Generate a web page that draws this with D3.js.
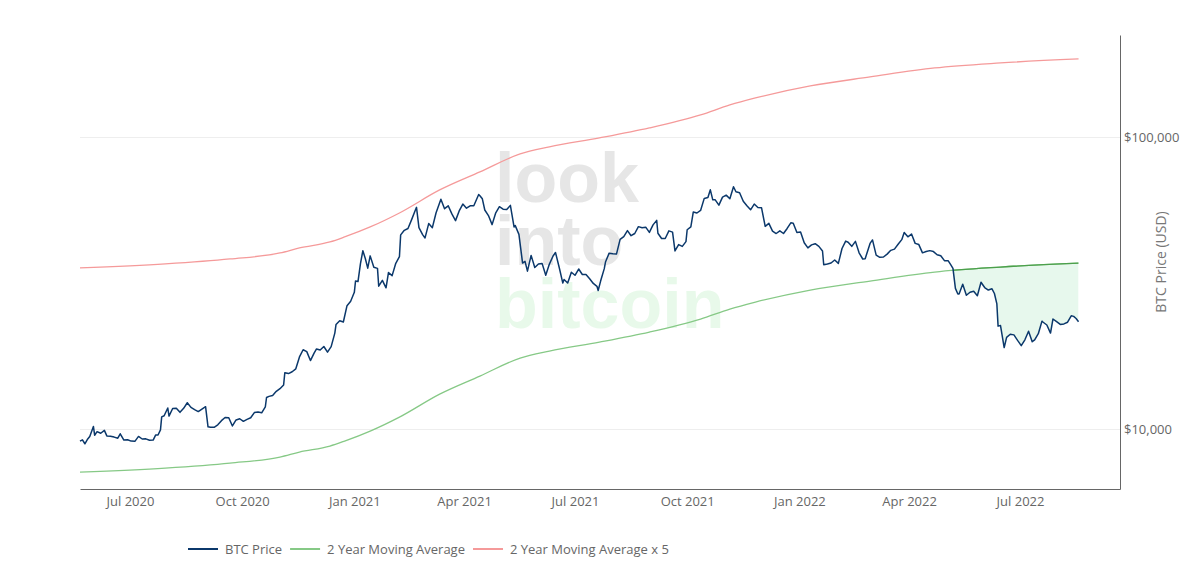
<!DOCTYPE html>
<html>
<head>
<meta charset="utf-8">
<script src="https://cdn.jsdelivr.net/npm/d3@7"></script>
<style>
  html, body { margin: 0; padding: 0; background: #fff; }
  svg { display: block; font-family: "Open Sans", sans-serif; }
</style>
</head>
<body>
<div id="chart-holder"></div>
<script>
// BTC daily close, sampled every few days [date, usd]
var btcPrice = [
  ['2020-05-21', 9080], ['2020-05-23', 9180], ['2020-05-25', 8900], ['2020-05-27', 9200], ['2020-05-29', 9430],
  ['2020-06-01', 10200], ['2020-06-02', 9520], ['2020-06-04', 9790], ['2020-06-07', 9670], ['2020-06-10', 9890],
  ['2020-06-12', 9470], ['2020-06-15', 9450], ['2020-06-18', 9380], ['2020-06-21', 9300], ['2020-06-23', 9630],
  ['2020-06-26', 9160], ['2020-06-29', 9190], ['2020-07-02', 9090], ['2020-07-05', 9070], ['2020-07-08', 9430],
  ['2020-07-11', 9240], ['2020-07-14', 9250], ['2020-07-17', 9150], ['2020-07-20', 9160], ['2020-07-22', 9530],
  ['2020-07-24', 9540], ['2020-07-26', 9930], ['2020-07-27', 11000], ['2020-07-29', 11100], ['2020-08-01', 11800],
  ['2020-08-02', 11070], ['2020-08-05', 11750], ['2020-08-08', 11770], ['2020-08-11', 11400], ['2020-08-14', 11770],
  ['2020-08-17', 12300], ['2020-08-20', 11860], ['2020-08-23', 11650], ['2020-08-26', 11470], ['2020-08-29', 11700],
  ['2020-09-01', 11920], ['2020-09-03', 10170], ['2020-09-05', 10130], ['2020-09-08', 10130], ['2020-09-11', 10330],
  ['2020-09-14', 10680], ['2020-09-17', 10950], ['2020-09-20', 10930], ['2020-09-23', 10240], ['2020-09-26', 10740],
  ['2020-09-29', 10840], ['2020-10-02', 10620], ['2020-10-05', 10790], ['2020-10-08', 10930], ['2020-10-11', 11380],
  ['2020-10-14', 11430], ['2020-10-17', 11360], ['2020-10-20', 11910], ['2020-10-21', 12820], ['2020-10-23', 12930],
  ['2020-10-26', 13030], ['2020-10-29', 13460], ['2020-11-01', 13740], ['2020-11-04', 14150], ['2020-11-05', 15590],
  ['2020-11-08', 15480], ['2020-11-11', 15700], ['2020-11-14', 16070], ['2020-11-17', 17650], ['2020-11-20', 18680],
  ['2020-11-23', 18400], ['2020-11-26', 17150], ['2020-11-29', 18180], ['2020-12-01', 18800], ['2020-12-04', 18650],
  ['2020-12-07', 19160], ['2020-12-10', 18320], ['2020-12-13', 19140], ['2020-12-16', 21300], ['2020-12-17', 22800],
  ['2020-12-20', 23480], ['2020-12-23', 23240], ['2020-12-26', 26440], ['2020-12-29', 27360], ['2021-01-01', 29370],
  ['2021-01-02', 32130], ['2021-01-04', 31970], ['2021-01-06', 36770], ['2021-01-08', 40780], ['2021-01-10', 38360],
  ['2021-01-12', 35540], ['2021-01-14', 39150], ['2021-01-17', 35800], ['2021-01-20', 35470], ['2021-01-21', 30830],
  ['2021-01-24', 32290], ['2021-01-27', 30430], ['2021-01-29', 34320], ['2021-02-01', 33500], ['2021-02-04', 36930],
  ['2021-02-07', 38900], ['2021-02-08', 46200], ['2021-02-11', 47900], ['2021-02-14', 48600], ['2021-02-17', 52100],
  ['2021-02-20', 56100], ['2021-02-21', 57400], ['2021-02-23', 48900], ['2021-02-26', 46300], ['2021-02-28', 45100],
  ['2021-03-03', 50500], ['2021-03-06', 48900], ['2021-03-09', 54900], ['2021-03-13', 61200], ['2021-03-16', 56800],
  ['2021-03-19', 58100], ['2021-03-22', 54500], ['2021-03-25', 51700], ['2021-03-28', 55800], ['2021-03-31', 58900],
  ['2021-04-03', 57000], ['2021-04-06', 58100], ['2021-04-09', 58100], ['2021-04-13', 63500], ['2021-04-14', 62900],
  ['2021-04-16', 61400], ['2021-04-18', 56200], ['2021-04-21', 53800], ['2021-04-24', 50100], ['2021-04-27', 55000],
  ['2021-04-30', 57700], ['2021-05-03', 56600], ['2021-05-06', 56400], ['2021-05-09', 58300], ['2021-05-12', 49200],
  ['2021-05-13', 49700], ['2021-05-16', 46400], ['2021-05-19', 37000], ['2021-05-21', 37500], ['2021-05-23', 34700],
  ['2021-05-26', 39300], ['2021-05-29', 35700], ['2021-06-01', 36700], ['2021-06-04', 36900], ['2021-06-07', 33600],
  ['2021-06-10', 36700], ['2021-06-13', 39100], ['2021-06-15', 40200], ['2021-06-18', 35800], ['2021-06-21', 31600],
  ['2021-06-22', 32500], ['2021-06-25', 31600], ['2021-06-28', 34400], ['2021-07-01', 33600], ['2021-07-04', 35300],
  ['2021-07-07', 33800], ['2021-07-10', 33800], ['2021-07-13', 32700], ['2021-07-16', 31500], ['2021-07-19', 30800],
  ['2021-07-20', 29800], ['2021-07-22', 32100], ['2021-07-25', 35400], ['2021-07-26', 37300], ['2021-07-29', 40000],
  ['2021-08-01', 39800], ['2021-08-04', 39700], ['2021-08-07', 44600], ['2021-08-10', 45600], ['2021-08-13', 47800],
  ['2021-08-16', 45900], ['2021-08-19', 46700], ['2021-08-22', 49300], ['2021-08-25', 48900], ['2021-08-28', 49100],
  ['2021-08-31', 47100], ['2021-09-03', 50000], ['2021-09-06', 51800], ['2021-09-07', 46800], ['2021-09-10', 44900],
  ['2021-09-13', 44900], ['2021-09-16', 47700], ['2021-09-19', 47200], ['2021-09-21', 40700], ['2021-09-24', 42800],
  ['2021-09-27', 42200], ['2021-09-30', 43800], ['2021-10-01', 48100], ['2021-10-04', 49200], ['2021-10-06', 55300],
  ['2021-10-09', 54900], ['2021-10-12', 56000], ['2021-10-15', 61600], ['2021-10-18', 62000], ['2021-10-20', 65900],
  ['2021-10-22', 60900], ['2021-10-24', 60900], ['2021-10-27', 58400], ['2021-10-30', 62200], ['2021-11-02', 63200],
  ['2021-11-05', 61400], ['2021-11-08', 67500], ['2021-11-10', 64900], ['2021-11-13', 64400], ['2021-11-16', 60200],
  ['2021-11-19', 58100], ['2021-11-22', 56300], ['2021-11-25', 58900], ['2021-11-28', 57300], ['2021-12-01', 57200],
  ['2021-12-04', 49400], ['2021-12-07', 50600], ['2021-12-10', 47600], ['2021-12-13', 46700], ['2021-12-16', 47700],
  ['2021-12-19', 46700], ['2021-12-22', 48600], ['2021-12-25', 50800], ['2021-12-27', 50600], ['2021-12-30', 47100],
  ['2022-01-02', 47300], ['2022-01-05', 43400], ['2022-01-08', 41700], ['2022-01-11', 42700], ['2022-01-14', 43100],
  ['2022-01-17', 42200], ['2022-01-20', 40700], ['2022-01-21', 36500], ['2022-01-24', 36700], ['2022-01-27', 37000],
  ['2022-01-30', 37900], ['2022-02-02', 36900], ['2022-02-05', 41500], ['2022-02-08', 44000], ['2022-02-10', 43600],
  ['2022-02-13', 42200], ['2022-02-16', 43900], ['2022-02-19', 40100], ['2022-02-22', 38200], ['2022-02-24', 38300],
  ['2022-02-28', 43200], ['2022-03-02', 44400], ['2022-03-05', 39400], ['2022-03-08', 38700], ['2022-03-11', 38800],
  ['2022-03-14', 39700], ['2022-03-17', 40900], ['2022-03-20', 41300], ['2022-03-23', 42900], ['2022-03-26', 44500],
  ['2022-03-28', 47100], ['2022-03-31', 45500], ['2022-04-03', 46500], ['2022-04-06', 43200], ['2022-04-09', 42800],
  ['2022-04-12', 40100], ['2022-04-15', 40500], ['2022-04-18', 40800], ['2022-04-21', 40500], ['2022-04-24', 39500],
  ['2022-04-27', 39200], ['2022-04-30', 37700], ['2022-05-03', 37700], ['2022-05-05', 36600], ['2022-05-07', 35500],
  ['2022-05-09', 30300], ['2022-05-11', 29000], ['2022-05-12', 29000], ['2022-05-15', 31300], ['2022-05-18', 28700],
  ['2022-05-21', 29400], ['2022-05-24', 29600], ['2022-05-27', 28600], ['2022-05-30', 31800], ['2022-06-02', 30500],
  ['2022-06-05', 29900], ['2022-06-08', 30200], ['2022-06-10', 29100], ['2022-06-12', 26800], ['2022-06-13', 22500],
  ['2022-06-15', 22600], ['2022-06-18', 19000], ['2022-06-20', 20600], ['2022-06-23', 21100], ['2022-06-26', 21000],
  ['2022-06-29', 20100], ['2022-07-02', 19300], ['2022-07-05', 20200], ['2022-07-08', 21600], ['2022-07-11', 19900],
  ['2022-07-13', 20200], ['2022-07-16', 21200], ['2022-07-19', 23400], ['2022-07-20', 23200], ['2022-07-23', 22700],
  ['2022-07-26', 21300], ['2022-07-28', 23800], ['2022-07-31', 23300], ['2022-08-03', 22800], ['2022-08-06', 22900],
  ['2022-08-09', 23200], ['2022-08-12', 24400], ['2022-08-14', 24300], ['2022-08-16', 23900], ['2022-08-18', 23300]
];

// 2 year (730 day) moving average
var maDates = ['2020-05-21', '2020-07-30', '2020-09-21', '2020-11-01', '2020-11-17', '2020-12-12',
  '2020-12-24', '2021-01-14', '2021-02-07', '2021-03-12', '2021-04-14', '2021-05-17', '2021-06-10',
  '2021-07-21', '2021-08-31', '2021-10-12', '2021-11-05', '2021-11-26', '2022-01-10', '2022-02-28',
  '2022-04-22', '2022-06-15', '2022-08-18'];
var maValues = [7118, 7348, 7642, 8012, 8335, 8738,
  9088, 9835, 10984, 13168, 15180, 17490, 18490,
  19840, 21470, 23790, 25740, 27200, 29910, 32100,
  34460, 35850, 37000];
var maMultiple = 5;

var xDomain = ['2020-05-21', '2022-09-21'];
var yDomain = [6230, 223400];
var yTicks = [10000, 100000];
var seriesNames = ['BTC Price', '2 Year Moving Average', '2 Year Moving Average x 5'];
var seriesColors = ['#0b386b', '#86c986', '#f59a9a'];
var watermarkWords = ['look', 'into', 'bitcoin'];

(function () {
    "use strict";
    var width = 1200, height = 575,
        padding = { top: 35, right: 80, bottom: 86, left: 80 },
        plotW = width - padding.left - padding.right,
        plotH = height - padding.top - padding.bottom,
        parse = d3.timeParse('%Y-%m-%d');

    var price = btcPrice.map(function (d) { return { date: parse(d[0]), value: d[1] }; }),
        ma = maDates.map(function (d, i) { return { date: parse(d), value: maValues[i] }; });

    var x = d3.scaleTime().domain(xDomain.map(parse)).range([0, plotW]),
        y = d3.scaleLog().domain(yDomain).range([plotH, 0]);

    var svg = d3.select('#chart-holder').append('svg')
        .attr('width', width).attr('height', height),
        chart = svg.append('g')
            .attr('transform', 'translate(' + padding.left + ',' + padding.top + ')');

    // grid
    chart.append('g').selectAll('line').data(yTicks).enter().append('line')
        .attr('x1', 0).attr('x2', plotW)
        .attr('y1', function (d) { return Math.round(y(d)) + 0.5; })
        .attr('y2', function (d) { return Math.round(y(d)) + 0.5; })
        .attr('stroke', '#eeeeee').attr('stroke-width', 1);

    // watermark, one text block so the lines may sit tight
    var wm = chart.append('text').attr('font-family', '"Liberation Sans", Arial, sans-serif')
        .attr('font-weight', 'bold').attr('font-size', 70);
    wm.selectAll('tspan').data(watermarkWords).enter().append('tspan')
        .attr('x', 495 - padding.left)
        .attr('y', function (d, i) { return 202 - padding.top + i * 63; })
        .attr('fill', function (d, i) { return i < 2 ? '#e6e6e6' : '#e8f9ea'; })
        .text(function (d) { return d; });

    var line = d3.line()
        .x(function (d) { return x(d.date); })
        .y(function (d) { return y(d.value); });
    var maLine = d3.line().curve(d3.curveMonotoneX)
        .x(function (d) { return x(d.date); })
        .y(function (d) { return y(d.value); });
    var maTopLine = d3.line().curve(d3.curveMonotoneX)
        .x(function (d) { return x(d.date); })
        .y(function (d) { return y(d.value * maMultiple); });

    // fill where price sits under the 2yr MA
    var defs = svg.append('defs');
    defs.append('clipPath').attr('id', 'below-ma').append('path')
        .attr('d', d3.area().curve(d3.curveMonotoneX)
            .x(function (d) { return x(d.date); })
            .y0(plotH)
            .y1(function (d) { return y(d.value); })(ma));
    defs.append('clipPath').attr('id', 'above-price').append('path')
        .attr('d', d3.area()
            .x(function (d) { return x(d.date); })
            .y0(0)
            .y1(function (d) { return y(d.value); })(price));

    chart.append('g').attr('clip-path', 'url(#below-ma)')
        .append('path')
        .attr('d', d3.area()
            .x(function (d) { return x(d.date); })
            .y0(0)
            .y1(function (d) { return y(d.value); })(price))
        .attr('fill', '#e7f8ed');

    chart.append('path').datum(ma).attr('d', maTopLine)
        .attr('fill', 'none').attr('stroke', seriesColors[2]).attr('stroke-width', 1.3);
    chart.append('path').datum(ma).attr('d', maLine)
        .attr('fill', 'none').attr('stroke', seriesColors[1]).attr('stroke-width', 1.3);
    chart.append('g').attr('clip-path', 'url(#above-price)')
        .append('path').datum(ma).attr('d', maLine)
        .attr('fill', 'none').attr('stroke', '#4c9f4c').attr('stroke-width', 1.3);
    chart.append('path').datum(price).attr('d', line)
        .attr('fill', 'none').attr('stroke', seriesColors[0]).attr('stroke-width', 1.5)
        .attr('stroke-linejoin', 'round');

    // axes
    var xAxis = d3.axisBottom(x).ticks(d3.timeMonth.every(3))
        .tickFormat(d3.timeFormat('%b %Y')).tickSize(0).tickPadding(8);
    var gx = chart.append('g').attr('transform', 'translate(0,' + plotH + ')').call(xAxis);
    gx.select('.domain').attr('stroke', '#666');
    gx.selectAll('text').attr('fill', '#666').attr('font-size', 13)
        .attr('font-family', '"Open Sans", sans-serif');

    var yAxis = d3.axisRight(y).tickValues(yTicks).tickFormat(d3.format('$,')).tickSize(0).tickPadding(4);
    var gy = chart.append('g').attr('transform', 'translate(' + plotW + ',0)').call(yAxis);
    gy.select('.domain').attr('stroke', '#666');
    gy.selectAll('text').attr('fill', '#666').attr('font-size', 13)
        .attr('font-family', '"Open Sans", sans-serif');

    svg.append('text')
        .attr('transform', 'translate(1166,' + (padding.top + plotH / 2) + ') rotate(-90)')
        .attr('text-anchor', 'middle').attr('fill', '#777').attr('font-size', 14)
        .text('BTC Price (USD)');

    // legend
    var legend = svg.append('g').attr('transform', 'translate(188,549)'),
        lx = 0;
    seriesNames.forEach(function (name, i) {
        legend.append('line').attr('x1', lx).attr('x2', lx + 30).attr('y1', 0).attr('y2', 0)
            .attr('stroke', seriesColors[i]).attr('stroke-width', 2);
        var t = legend.append('text').attr('x', lx + 37).attr('y', 4.5)
            .attr('fill', '#666').attr('font-size', 13).text(name);
        lx += 37 + t.node().getComputedTextLength() + 8;
    });
})();
</script>
</body>
</html>
